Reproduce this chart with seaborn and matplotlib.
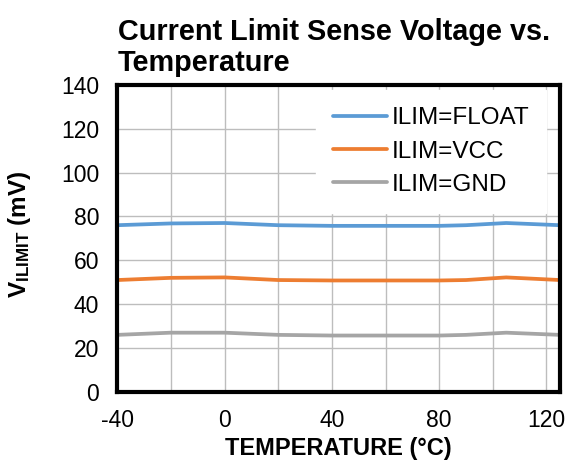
import matplotlib
matplotlib.use("Agg")
import matplotlib.pyplot as plt
import seaborn as sns
import pandas as pd

temps = [-40, -20, 0, 20, 40, 60, 80, 90, 105, 125]
ilim_float = [76.0, 76.8, 77.0, 76.0, 75.7, 75.7, 75.7, 76.0, 77.0, 76.0]
ilim_vcc = [51.0, 52.0, 52.2, 51.0, 50.8, 50.8, 50.8, 51.0, 52.2, 51.0]
ilim_gnd = [26.0, 27.0, 27.0, 26.0, 25.7, 25.7, 25.7, 26.0, 27.0, 26.0]
series_names = ["ILIM=FLOAT", "ILIM=VCC", "ILIM=GND"]
colors = ["#5B9BD5", "#ED7D31", "#A5A5A5"]

df = pd.DataFrame({
    "temp": temps * 3,
    "v": ilim_float + ilim_vcc + ilim_gnd,
    "series": [s for s in series_names for _ in temps],
})

sns.set_style("white")
plt.rcParams["font.family"] = ["Liberation Sans", "DejaVu Sans"]
plt.rcParams["mathtext.fontset"] = "custom"
plt.rcParams["mathtext.bf"] = "Liberation Sans:bold"
plt.rcParams["mathtext.rm"] = "Liberation Sans"
plt.rcParams["axes.unicode_minus"] = False
for key in ["text.color", "axes.labelcolor", "xtick.color", "ytick.color"]:
    plt.rcParams[key] = "black"

fig = plt.figure(figsize=(5.69, 4.66), dpi=100)
ax = fig.add_axes([0.206, 0.159, 0.778, 0.659])

sns.lineplot(data=df, x="temp", y="v", hue="series", palette=colors,
             linewidth=2.7, ax=ax, legend=True)

ax.set_xlim(-40, 125)
ax.set_ylim(0, 140)
ax.set_xticks(range(-40, 121, 20), minor=True)
ax.set_xticks([-40, 0, 40, 80, 120])
ax.set_yticks(range(0, 141, 20))
ax.grid(True, which="both", color="#bdbdbd", linewidth=1)
ax.tick_params(axis="y", which="both", length=0, labelsize=16.5, pad=13)
ax.tick_params(axis="x", which="both", length=0, labelsize=16.5, pad=12.5)
for sp in ax.spines.values():
    sp.set_linewidth(3)
    sp.set_color("black")

ax.set_xlabel("TEMPERATURE (°C)", fontsize=17, fontweight="bold")
ax.set_ylabel(r"$\mathbf{V_{ILIMIT}}$ (mV)", fontsize=17.5, fontweight="bold")
ax.xaxis.set_label_coords(0.5, -0.147)
ax.yaxis.set_label_coords(-0.19, 0.515)
fig.text(0.207, 0.962, "Current Limit Sense Voltage vs.\nTemperature",
         fontsize=20.8, fontweight="bold", ha="left", va="top",
         linespacing=1.15)

leg = ax.legend(loc="upper right", bbox_to_anchor=(0.969, 0.982),
                frameon=True, fontsize=17.5, handlelength=2.2,
                handletextpad=0.2, borderaxespad=0, borderpad=0.7,
                labelspacing=0.46, fancybox=False)
leg.get_frame().set_facecolor("white")
leg.get_frame().set_edgecolor("white")
leg.get_frame().set_alpha(1)

fig.savefig("out.png", dpi=100)
